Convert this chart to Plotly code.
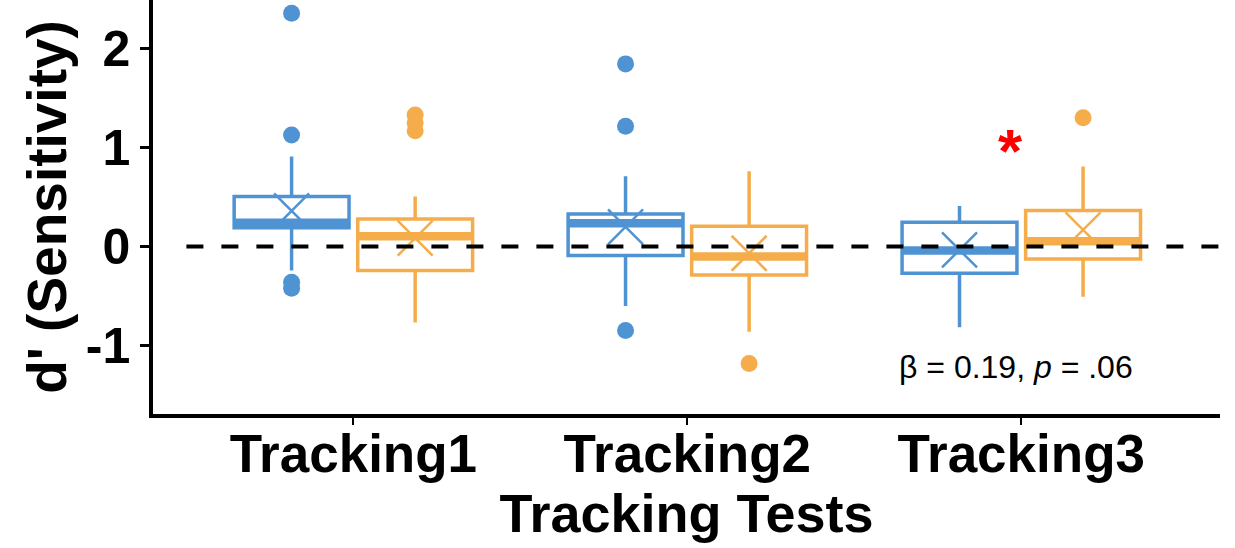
import plotly.graph_objects as go

categories = ["Tracking1", "Tracking2", "Tracking3"]
cat_pos = [0, 1, 2]
y_ticks = [-1, 0, 1, 2]
y_tick_labels = ["-1", "0", "1", "2"]

# Series A (blue)
a_q1 = [0.19, -0.09, -0.27]
a_median = [0.24, 0.235, -0.04]
a_q3 = [0.505, 0.33, 0.246]
a_lower = [-0.24, -0.60, -0.815]
a_upper = [0.91, 0.71, 0.41]
a_mean = [0.36, 0.20, -0.034]
a_out_cat = [0, 0, 0, 0, 1, 1, 1]
a_out_val = [2.357, 1.128, -0.36, -0.42, 1.845, 1.215, -0.848]

# Series B (orange)
b_q1 = [-0.242, -0.286, -0.125]
b_median = [0.104, -0.10, 0.054]
b_q3 = [0.28, 0.205, 0.364]
b_lower = [-0.765, -0.86, -0.505]
b_upper = [0.505, 0.76, 0.81]
b_mean = [0.085, -0.067, 0.168]
b_out_cat = [0, 0, 0, 1, 2]
b_out_val = [1.33, 1.25, 1.17, -1.18, 1.30]

BLUE = "#4f93d3"
ORANGE = "#f5ad4b"
OFFSET = 0.185
WIDTH = 0.344
FONT = "Liberation Sans, Arial, sans-serif"

fig = go.Figure()

series = [
    (BLUE, -OFFSET, a_q1, a_median, a_q3, a_lower, a_upper, a_mean, a_out_cat, a_out_val),
    (ORANGE, OFFSET, b_q1, b_median, b_q3, b_lower, b_upper, b_mean, b_out_cat, b_out_val),
]

for color, off, q1, med, q3, lo, up, mean, oc, ov in series:
    xs = [c + off for c in cat_pos]
    fig.add_trace(go.Box(
        x=xs, q1=q1, median=med, q3=q3, lowerfence=lo, upperfence=up,
        width=WIDTH, whiskerwidth=0, line=dict(color=color, width=3.5),
        fillcolor="rgba(255,255,255,0)", boxpoints=False, showlegend=False,
        hoverinfo="skip",
    ))
    # thick median lines
    for x, m in zip(xs, med):
        fig.add_trace(go.Scatter(
            x=[x - WIDTH / 2, x + WIDTH / 2], y=[m, m], mode="lines",
            line=dict(color=color, width=8.5), showlegend=False, hoverinfo="skip",
        ))
    # mean X markers
    fig.add_trace(go.Scatter(
        x=xs, y=mean, mode="markers",
        marker=dict(symbol="x-thin", size=35, line=dict(color=color, width=2.5)),
        showlegend=False, hoverinfo="skip",
    ))
    # outliers
    fig.add_trace(go.Scatter(
        x=[cat_pos[c] + off for c in oc], y=ov, mode="markers",
        marker=dict(symbol="circle", size=17, color=color),
        showlegend=False, hoverinfo="skip",
    ))

# dashed zero reference line
fig.add_shape(type="line", xref="x", yref="y", x0=-0.5, x1=2.595, y0=0, y1=0,
              line=dict(color="black", width=4, dash="17px,18px"), layer="above")

fig.add_annotation(x=1.968, y=1.04, text="*", showarrow=False,
                   font=dict(family=FONT, size=62, color="red", weight="bold"),
                   yshift=-7)
fig.add_annotation(x=1.984, y=-1.22, text="β = 0.19, <i>p</i> = .06", showarrow=False,
                   font=dict(family=FONT, size=32, color="black"), yshift=0)

fig.update_layout(
    width=1235, height=548,
    margin=dict(l=153, r=15, t=0, b=134),
    plot_bgcolor="white", paper_bgcolor="white",
    boxmode="overlay",
    xaxis=dict(
        range=[-0.6, 2.595], tickvals=cat_pos, ticktext=categories,
        showline=True, linecolor="black", linewidth=3.5, mirror=False,
        ticks="outside", ticklen=7, tickwidth=2, tickcolor="black",
        showgrid=False, zeroline=False, automargin=False,
        ticklabelstandoff=-16,
        tickfont=dict(family=FONT, size=53, color="black", weight="bold"),
        title=dict(text="Tracking Tests",
                   font=dict(family=FONT, size=54, color="black", weight="bold"),
                   standoff=0),
    ),
    yaxis=dict(
        range=[-1.69, 2.49], tickvals=y_ticks, ticktext=y_tick_labels,
        showline=True, linecolor="black", linewidth=3.5,
        ticks="outside", ticklen=9, tickwidth=3, tickcolor="black",
        showgrid=False, zeroline=False, automargin=False,
        tickfont=dict(family=FONT, size=50, color="black", weight="bold"),
        title=dict(text="d' (Sensitivity)",
                   font=dict(family=FONT, size=55, color="black", weight="bold"),
                   standoff=3),
    ),
)

fig.write_html(
    "out.html",
    config={"displayModeBar": False},
    post_script="document.body.style.margin='0';document.body.style.overflow='hidden';",
)
